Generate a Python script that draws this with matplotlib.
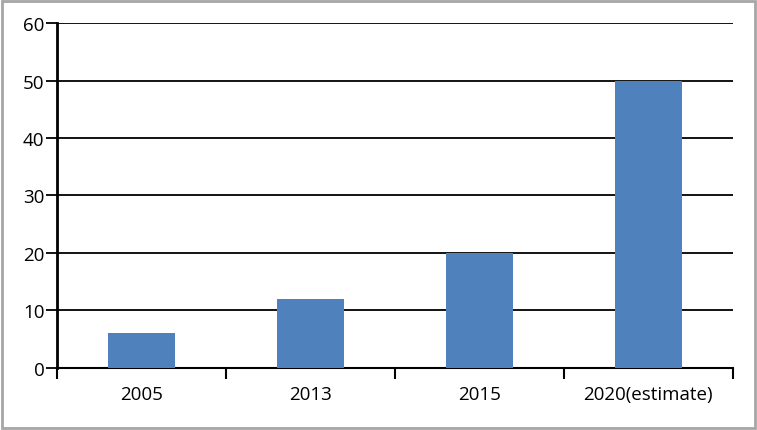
import matplotlib.pyplot as plt
from matplotlib.patches import Rectangle

categories = ['2005', '2013', '2015', '2020(estimate)']
values = [6, 12, 20, 50]
y_ticks = [0, 10, 20, 30, 40, 50, 60]

plt.rcParams['font.family'] = ['Open Sans', 'DejaVu Sans']

fig = plt.figure(figsize=(7.57, 4.31), dpi=100)
ax = fig.add_axes([0.0753, 0.1439, 0.8927, 0.8004])

x = range(len(categories))
ax.bar(x, values, width=0.4, color='#4F81BD', zorder=3)

ax.set_xlim(-0.5, len(categories) - 0.5)
ax.set_ylim(0, 60)
ax.set_yticks(y_ticks)
ax.yaxis.grid(True, color='black', linewidth=1.3, zorder=0)

# category labels centered, ticks at category boundaries
ax.set_xticks([i - 0.5 for i in range(len(categories) + 1)])
ax.set_xticklabels([])
ax.set_xticks(list(x), minor=True)
ax.set_xticklabels(categories, minor=True, fontsize=13.5)
ax.tick_params(axis='x', which='minor', length=0, pad=12)
ax.tick_params(axis='x', which='major', length=8, width=1.5, direction='out')
ax.tick_params(axis='y', length=8, width=1.3, direction='out', labelsize=13.5, pad=1)

for s in ['top', 'right']:
    ax.spines[s].set_visible(False)
ax.spines['left'].set_linewidth(2)
ax.spines['bottom'].set_linewidth(1.5)

fig.patches.append(Rectangle((0.003, 0.005), 0.994, 0.99, transform=fig.transFigure,
                             fill=False, edgecolor='#a6a6a6', linewidth=2))

fig.savefig('out.png', dpi=100)
